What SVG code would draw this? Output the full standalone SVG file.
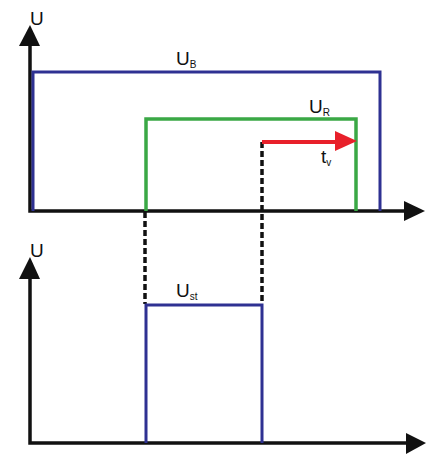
<svg xmlns="http://www.w3.org/2000/svg" width="426" height="466" viewBox="0 0 426 466">
<style>
.ax{stroke:#111;stroke-width:3.5;fill:none}
.ah{fill:#111}
.bl{stroke:#2e3192;stroke-width:3;fill:none}
.gr{stroke:#3aa845;stroke-width:3.5;fill:none}
.rd{stroke:#e8202a;stroke-width:4;fill:none}
.ds{stroke:#111;stroke-width:3.5;stroke-dasharray:6 3;fill:none}
.t{font-family:"Liberation Sans",Arial,sans-serif;font-size:19px;fill:#111}
.s{font-size:10px}
</style>
<rect width="426" height="466" fill="#fff"/>
<g id="connectors">
<path class="ds" d="M145 212V304"/>
<path class="ds" d="M262 142V304"/>
</g>
<g id="top-axes">
<path class="ax" d="M30 43V211H406"/>
<polygon class="ah" points="19,46 30,25 40,46"/>
<polygon class="ah" points="404,201 425,211 404,221"/>
<text class="t" x="30" y="25">U</text>
</g>
<g id="UB">
<path class="bl" d="M33 211V72H380V211"/>
<text class="t" x="176" y="65">U<tspan class="s" dy="3">B</tspan></text>
</g>
<g id="UR">
<path class="gr" d="M146 211V119H356V211"/>
<text class="t" x="309" y="113">U<tspan class="s" dy="3">R</tspan></text>
</g>
<g id="tv">
<path class="rd" d="M262 142H338"/>
<polygon points="335,131 357,141 335,151" fill="#e8202a"/>
<text class="t" x="321" y="163">t<tspan class="s" dy="3">v</tspan></text>
</g>
<g id="bottom-axes">
<path class="ax" d="M30 276V443H408"/>
<polygon class="ah" points="19,279 30,257 40,279"/>
<polygon class="ah" points="406,433 426,443 406,454"/>
<text class="t" x="30" y="257">U</text>
</g>
<g id="Ust">
<path class="bl" d="M146 443V305H262V443"/>
<text class="t" x="176" y="297">U<tspan class="s" dy="3">st</tspan></text>
</g>
</svg>
